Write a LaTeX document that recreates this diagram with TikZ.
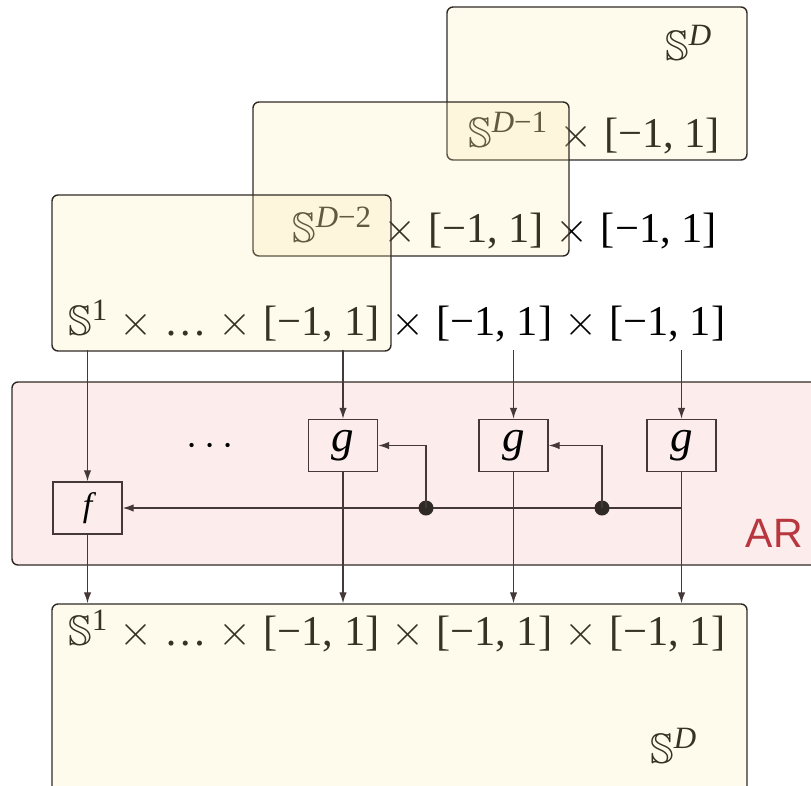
\RequirePackage{fix-cm}
\documentclass[tikz,border=0pt]{standalone}
\usepackage{amssymb}
\usepackage{fontspec}
\newfontfamily\tms{Liberation Serif}
\newfontfamily\labelsans{Liberation Sans}
\usetikzlibrary{arrows.meta}

\definecolor{spacefill}{RGB}{250,232,168}
\definecolor{arfill}{RGB}{252,236,236}
\definecolor{edge}{RGB}{48,42,38}
\definecolor{wire}{RGB}{68,56,56}
\definecolor{arred}{RGB}{184,55,62}

% pieces of the product-space labels
\newcommand{\tsup}[1]{\raisebox{15pt}{\fontsize{31}{31}\selectfont #1}}
\newcommand{\sph}[1]{$\mathbb{S}$\tsup{#1}}
\newcommand{\cross}{\hspace{0.28em}$\times$\hspace{0.28em}}
\newcommand{\ival}{[−1, 1]}
\newcommand{\spacerow}{\sph{1}\cross…\cross\ival\cross\ival\cross\ival}

\begin{document}
\begin{tikzpicture}[x=1pt, y=-1pt, font=\tms\fontsize{42.5}{48}\selectfont,
  spacebox/.style={draw=edge, line width=1.4pt, rounded corners=6pt,
    fill=spacefill, fill opacity=0.22, inner sep=0},
  opbox/.style={draw=wire, line width=1.4pt, minimum width=69pt,
    minimum height=52pt, inner sep=0},
  wireline/.style={draw=wire, line width=1.35pt},
  arr/.style={wireline, -{Latex[length=11pt,width=7.5pt]}},
  junction/.style={circle, fill=edge, minimum size=15pt, inner sep=0},
  row/.style={anchor=base west, inner sep=0}]

\useasboundingbox (0,0) rectangle (811,785);
\clip (0,0) rectangle (811,785);

% autoregressive block
\node[draw=edge, line width=1.4pt, rounded corners=6pt, fill=arfill,
  minimum width=818pt, minimum height=183pt] (ar) at (421,473.5) {};
\node[anchor=base east, inner sep=0, text=arred,
  font=\labelsans\fontsize{41}{44}\selectfont] (arlabel) at (803,547) {AR};

% product-space labels (set first, tinted by the boxes drawn over them)
\node[row] (r0) at (665,60) {\sph{\itshape D}};
\node[row] (r1) at (468,147) {\sph{{\itshape D}−1}\cross\ival};
\node[row] (r2) at (292,242) {\sph{{\itshape D}−2}\cross\ival\cross\ival};
\node[row] (r3) at (68,335) {\spacerow};
\node[row] (b1) at (68,645) {\spacerow};
\node[row] (b0) at (650,763) {\sph{\itshape D}};

% translucent sphere boxes
\node[spacebox, minimum width=300pt, minimum height=153pt] (sD) at (597,83.5) {};
\node[spacebox, minimum width=316pt, minimum height=154pt] (sD1) at (411,179) {};
\node[spacebox, minimum width=339pt, minimum height=156pt] (sD2) at (221.5,273) {};
\node[spacebox, minimum width=695pt, minimum height=200pt] (sBot) at (399.5,704) {};

% flows
\node[opbox, font=\tms\itshape\fontsize{34}{38}\selectfont] (f) at (87.5,508) {f};
\node[opbox, font=\tms\itshape\fontsize{45}{50}\selectfont] (g1) at (343,445.5) {g};
\node[opbox, font=\tms\itshape\fontsize{45}{50}\selectfont] (g2) at (513.5,445.5) {g};
\node[opbox, font=\tms\itshape\fontsize{45}{50}\selectfont] (g3) at (681.5,445.5) {g};
\node[font=\fontsize{40}{44}\selectfont] (dots) at (210,447) {$\cdots$};

% inputs
\coordinate (i1) at (87.5,350);
\coordinate (i2) at (343,350);
\coordinate (i3) at (513.5,350);
\coordinate (i4) at (681.5,350);
\draw[arr] (i1) -- (f.north);
\draw[arr] (i2) -- (g1.north);
\draw[arr] (i3) -- (g2.north);
\draw[arr] (i4) -- (g3.north);

% outputs
\draw[arr] (f.south) -- (f.south |- sBot.north);
\draw[arr] (g1.south) -- (g1.south |- sBot.north);
\draw[arr] (g2.south) -- (g2.south |- sBot.north);
\draw[arr] (g3.south) -- (g3.south |- sBot.north);

% conditioning bus
\draw[arr] (g3.south |- f.east) -- (f.east);
\node[junction] (j1) at (426,508) {};
\node[junction] (j2) at (602,508) {};
\draw[arr] (j1.center) |- (g1.east);
\draw[arr] (j2.center) |- (g2.east);

\end{tikzpicture}
\end{document}
